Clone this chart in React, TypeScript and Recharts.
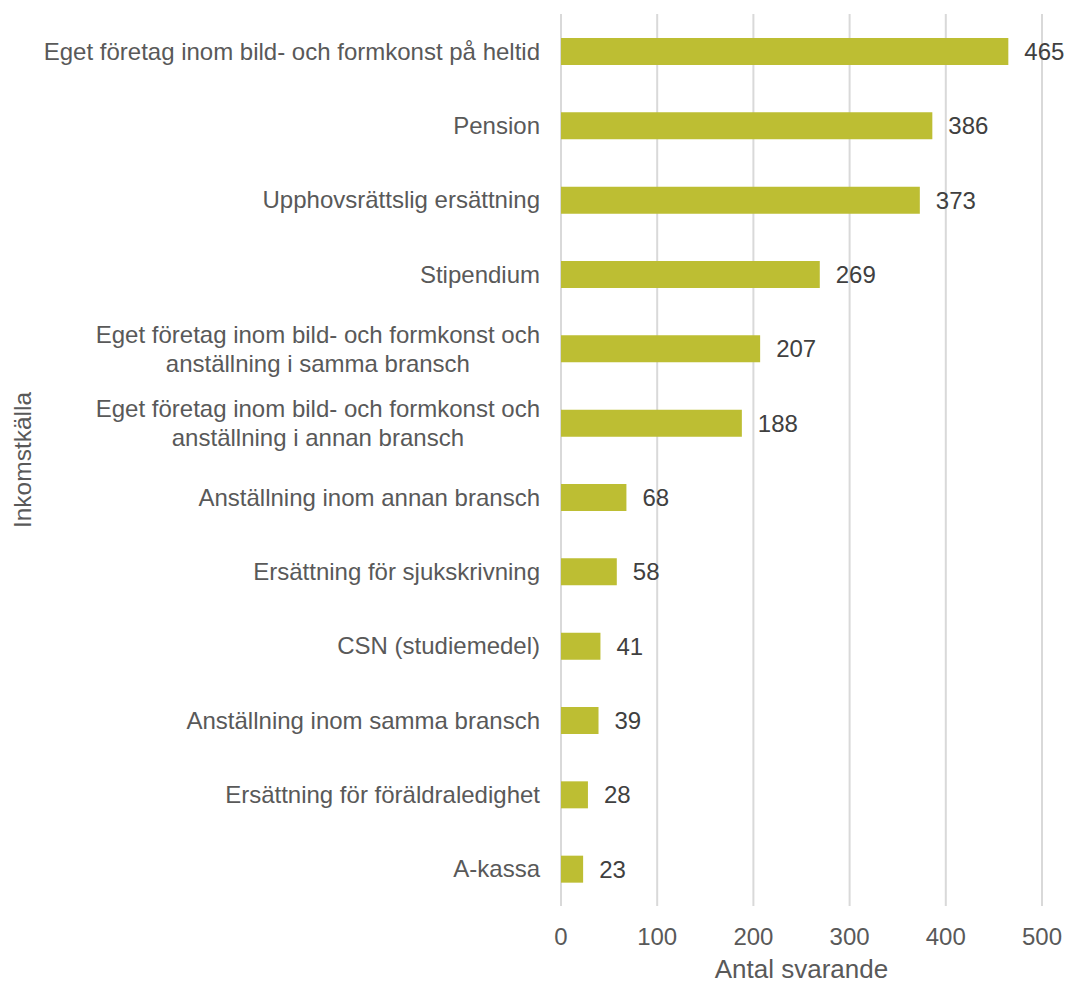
import React from 'react';
import { BarChart, Bar, XAxis, YAxis, CartesianGrid, LabelList } from 'recharts';

const categories = [
  'Eget företag inom bild- och formkonst på heltid',
  'Pension',
  'Upphovsrättslig ersättning',
  'Stipendium',
  'Eget företag inom bild- och formkonst och\nanställning i samma bransch',
  'Eget företag inom bild- och formkonst och\nanställning i annan bransch',
  'Anställning inom annan bransch',
  'Ersättning för sjukskrivning',
  'CSN (studiemedel)',
  'Anställning inom samma bransch',
  'Ersättning för föräldraledighet',
  'A-kassa',
];
const counts = [465, 386, 373, 269, 207, 188, 68, 58, 41, 39, 28, 23];
const xTicks = [0, 100, 200, 300, 400, 500];

const data = categories.map((name, i) => ({ name, value: counts[i] }));

const FONT = '"Liberation Sans", Arial, Helvetica, sans-serif';
const LABEL_SIZE = 24;

let ctx: CanvasRenderingContext2D | null = null;
const measure = (s: string) => {
  if (!ctx) {
    ctx = document.createElement('canvas').getContext('2d');
  }
  if (!ctx) return s.length * 12;
  ctx.font = `${LABEL_SIZE}px ${FONT}`;
  return ctx.measureText(s).width;
};

// two-line labels: lines centred on each other, block right-aligned to the axis
const CategoryTick = (props: any) => {
  const { x, y, payload } = props;
  const lines: string[] = String(payload.value).split('\n');
  if (lines.length === 1) {
    return (
      <text x={x} y={y} dy="0.355em" textAnchor="end" fill="#595959" fontSize={LABEL_SIZE} fontFamily={FONT}>
        {lines[0]}
      </text>
    );
  }
  const w = Math.max(...lines.map(measure));
  const cx = x - w / 2;
  const lh = 29;
  const start = -((lines.length - 1) * lh) / 2;
  return (
    <g>
      {lines.map((l, i) => (
        <text key={i} x={cx} y={y + start + i * lh} dy="0.355em" textAnchor="middle" fill="#595959" fontSize={LABEL_SIZE} fontFamily={FONT}>
          {l}
        </text>
      ))}
    </g>
  );
};

const XTitle = (props: any) => {
  const { viewBox } = props;
  return (
    <text
      x={viewBox.x + viewBox.width / 2}
      y={viewBox.y + viewBox.height - 5}
      textAnchor="middle"
      fill="#595959"
      fontSize={26}
      fontFamily={FONT}
    >
      Antal svarande
    </text>
  );
};

export default function App() {
  return (
    <div style={{ position: 'absolute', left: 0, top: 0, background: '#fff' }}>
      <BarChart
        width={1067}
        height={983}
        data={data}
        layout="vertical"
        margin={{ top: 14, right: 25, bottom: 0, left: 0 }}
      >
        <CartesianGrid horizontal={false} stroke="#d9d9d9" strokeWidth={2} />
        <XAxis
          type="number"
          domain={[0, 500]}
          ticks={xTicks}
          axisLine={false}
          tickLine={false}
          tickMargin={16}
          height={77}
          tick={{ fill: '#595959', fontSize: 24, fontFamily: FONT }}
          label={<XTitle />}
        />
        <YAxis
          type="category"
          dataKey="name"
          width={561}
          axisLine={false}
          tickLine={false}
          tickMargin={15}
          interval={0}
          tick={<CategoryTick />}
          label={{ value: 'Inkomstkälla', angle: -90, position: 'insideLeft', offset: 22, fill: '#595959', fontSize: 24.5, fontFamily: FONT, style: { textAnchor: 'middle' } }}
        />
        <Bar dataKey="value" fill="#bdbe33" barSize={27} isAnimationActive={false}>
          <LabelList dataKey="value" position="right" offset={16} fill="#404040" fontSize={24} fontFamily={FONT} />
        </Bar>
      </BarChart>
    </div>
  );
}
